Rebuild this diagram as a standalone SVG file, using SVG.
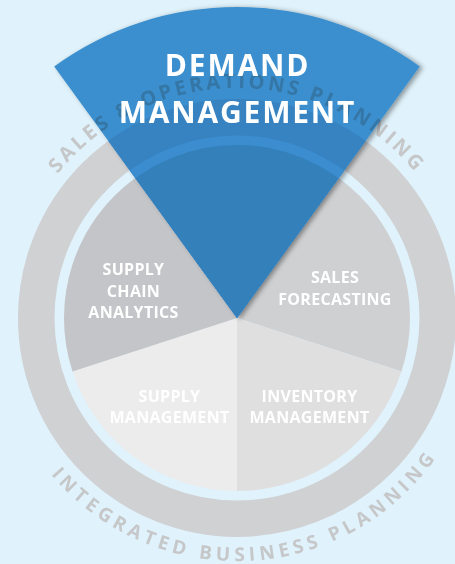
<svg xmlns="http://www.w3.org/2000/svg" xmlns:xlink="http://www.w3.org/1999/xlink" width="455" height="564" viewBox="0 0 455 564">
<defs>
<style>
.arc{font-family:"Open Sans","Noto Sans","Liberation Sans",sans-serif;font-weight:700}
.lbl{font-family:"Open Sans","Noto Sans","Liberation Sans",sans-serif;font-weight:700;font-size:16px;fill:#ffffff;text-anchor:middle;letter-spacing:0.3px}
.big{font-family:"Open Sans","Noto Sans","Liberation Sans",sans-serif;font-weight:700;font-size:30px;fill:#ffffff;text-anchor:middle;letter-spacing:1.8px}
</style>
<path id="topArc" d="M33.9,210 A230,230 0 0 1 440.1,210"/>
<path id="botArc" d="M22.4,432.1 A243,243 0 0 0 451.6,432.1"/>
<path id="sectorShape" d="M237,318 L54.2,66.4 A311,311 0 0 1 419.8,66.4 Z"/>
<clipPath id="sectorClip"><use xlink:href="#sectorShape"/></clipPath>
<filter id="shadow" x="-20%" y="-20%" width="140%" height="140%">
<feDropShadow dx="3" dy="1" stdDeviation="2.5" flood-color="#000" flood-opacity="0.4"/>
</filter>
</defs>
<rect width="455" height="564" fill="#e0f2fb"/>
<g id="outer-ring">
<circle cx="237" cy="318" r="200.75" fill="none" stroke="#d0d1d3" stroke-width="36.5"/>
<text class="arc" font-size="19" font-weight="600" letter-spacing="4.5" fill="#c6c7c9"><textPath xlink:href="#botArc" startOffset="275" text-anchor="middle">INTEGRATED BUSINESS PLANNING</textPath></text>
</g>
<g id="sales-forecasting">
<path d="M237,318 L338.7,178 A173,173 0 0 1 401.5,371.5 Z" fill="#cfd0d2"/>
<text class="lbl" x="335" y="283">SALES</text>
<text class="lbl" x="335" y="305">FORECASTING</text>
</g>
<g id="inventory-management">
<path d="M237,318 L401.5,371.5 A173,173 0 0 1 237,491 Z" fill="#dfdfe0"/>
<text class="lbl" x="309.5" y="402">INVENTORY</text>
<text class="lbl" x="309.5" y="423">MANAGEMENT</text>
</g>
<g id="supply-management">
<path d="M237,318 L237,491 A173,173 0 0 1 72.5,371.5 Z" fill="#ececec"/>
<text class="lbl" x="169.5" y="402">SUPPLY</text>
<text class="lbl" x="169.5" y="423">MANAGEMENT</text>
</g>
<g id="supply-chain-analytics">
<path d="M237,318 L72.5,371.5 A173,173 0 0 1 135.3,178 Z" fill="#c4c5c8"/>
<text class="lbl" x="133.5" y="275">SUPPLY</text>
<text class="lbl" x="133.5" y="297">CHAIN</text>
<text class="lbl" x="133.5" y="318">ANALYTICS</text>
</g>
<g id="demand-management">
<use xlink:href="#sectorShape" fill="#3a8fce" filter="url(#shadow)"/>
<g clip-path="url(#sectorClip)">
<circle cx="237" cy="318" r="219" fill="#3782c0"/>
<circle cx="237" cy="318" r="182.5" fill="#3b8dcf"/>
<circle cx="237" cy="318" r="173" fill="#3480ba"/>
</g>
</g>
<g id="sop-label">
<text class="arc" font-size="20" letter-spacing="3.2" fill="#e1d2cd" style="mix-blend-mode:multiply"><textPath xlink:href="#topArc" startOffset="50%" text-anchor="middle">SALES &amp; OPERATIONS PLANNING</textPath></text>
</g>
<g id="demand-label">
<text class="big" x="237.5" y="76">DEMAND</text>
<text class="big" x="237.5" y="123">MANAGEMENT</text>
</g>
</svg>
